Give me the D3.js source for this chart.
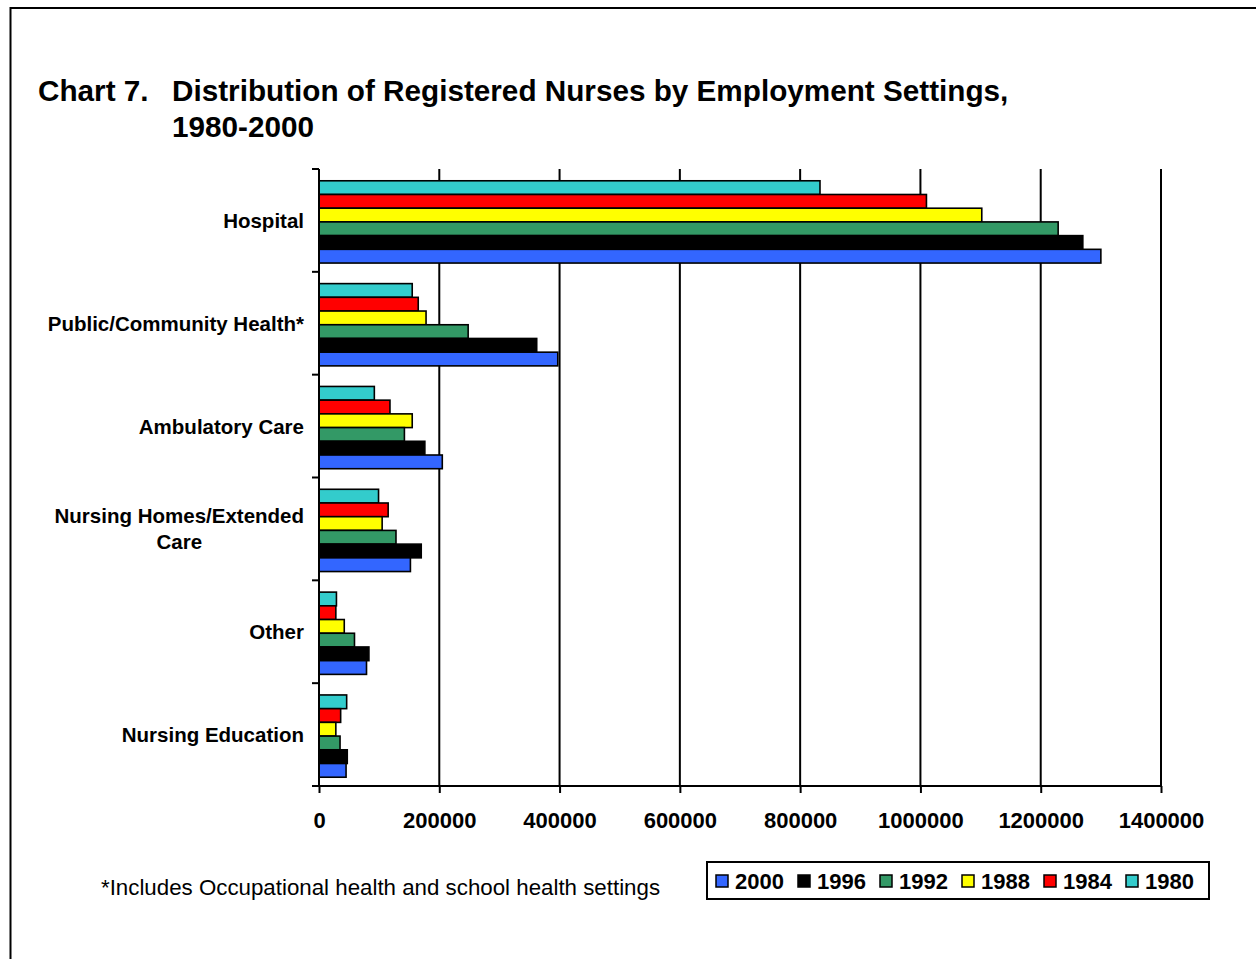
<!DOCTYPE html>
<html>
<head>
<meta charset="utf-8">
<script src="https://cdn.jsdelivr.net/npm/d3@7"></script>
<style>
  html, body { margin: 0; padding: 0; background: #fff; }
  svg { display: block; font-family: "Liberation Sans", Arial, Helvetica, sans-serif; }
</style>
</head>
<body>
<svg id="chart" width="1256" height="959"></svg>
<script>
// Employment settings (top to bottom)
const categories = [
  "Hospital",
  "Public/Community Health*",
  "Ambulatory Care",
  "Nursing Homes/Extended Care",
  "Other",
  "Nursing Education"
];

// Number of registered nurses per setting, by survey year
const s1980 = [833000, 155000, 92000, 99000, 29000, 46000];
const s1984 = [1010000, 165000, 118000, 115000, 28000, 36000];
const s1988 = [1102000, 178000, 155000, 105000, 42000, 28000];
const s1992 = [1229000, 248000, 142000, 128000, 59000, 35000];
const s1996 = [1270000, 362000, 176000, 170000, 83000, 47000];
const s2000 = [1300000, 397000, 205000, 152000, 79000, 45000];

// Bar order within each group (top to bottom) and legend order
const barYears = ["1980", "1984", "1988", "1992", "1996", "2000"];
const legendYears = ["2000", "1996", "1992", "1988", "1984", "1980"];
const yearColors = ["#33CCCC", "#FF0000", "#FFFF00", "#339966", "#000000", "#3366FF"];

const xTicks = [0, 200000, 400000, 600000, 800000, 1000000, 1200000, 1400000];

const titleLines = ["Distribution of Registered Nurses by Employment Settings,", "1980-2000"];
const footnote = "*Includes Occupational health and school health settings";

const seriesByYear = { "1980": s1980, "1984": s1984, "1988": s1988, "1992": s1992, "1996": s1996, "2000": s2000 };

const svg = d3.select("#chart");

// outer frame
svg.append("rect")
  .attr("x", 10.5).attr("y", 8)
  .attr("width", 2000).attr("height", 2000)
  .attr("fill", "none").attr("stroke", "#000").attr("stroke-width", 2);

// title
svg.append("text")
  .attr("x", 38).attr("y", 101)
  .attr("font-size", 29.7).attr("font-weight", "bold")
  .text("Chart 7.");
titleLines.forEach((t, i) => {
  svg.append("text")
    .attr("x", 172).attr("y", 101 + i * 36)
    .attr("font-size", 29.7).attr("font-weight", "bold")
    .text(t);
});

const plot = { left: 319, right: 1161, top: 169, bottom: 786 };

const x = d3.scaleLinear().domain([0, 1400000]).range([plot.left, plot.right]);
const y = d3.scaleBand().domain(categories).range([plot.top, plot.bottom])
  .paddingInner(0.2).paddingOuter(0.1);
const yInner = d3.scaleBand().domain(barYears).range([0, y.bandwidth()]);
const color = d3.scaleOrdinal().domain(barYears).range(yearColors);

// vertical gridlines
svg.append("g").selectAll("line")
  .data(xTicks.filter(d => d > 0))
  .join("line")
  .attr("x1", d => x(d)).attr("x2", d => x(d))
  .attr("y1", plot.top).attr("y2", plot.bottom)
  .attr("stroke", "#000").attr("stroke-width", 2);

// bars (groups sit slightly below the band centre)
const groups = svg.append("g").selectAll("g")
  .data(categories)
  .join("g")
  .attr("transform", c => `translate(0,${y(c) + 1.5})`);

groups.selectAll("rect")
  .data((c, i) => barYears.map(yr => ({ yr, v: seriesByYear[yr][i] })))
  .join("rect")
  .attr("x", x(0))
  .attr("y", d => yInner(d.yr))
  .attr("width", d => x(d.v) - x(0))
  .attr("height", yInner.bandwidth())
  .attr("fill", d => color(d.yr))
  .attr("stroke", "#000").attr("stroke-width", 1.6);

// bottom axis
const xAxis = svg.append("g")
  .attr("transform", `translate(0,${plot.bottom})`)
  .call(d3.axisBottom(x).tickValues(xTicks).tickFormat(d3.format("d")).tickSize(7).tickPadding(19).tickSizeOuter(0));
xAxis.select(".domain").attr("stroke-width", 2).attr("d", `M${plot.left - 7},0H${plot.right}`);
xAxis.selectAll(".tick line").attr("stroke-width", 2);
xAxis.selectAll(".tick text")
  .attr("font-family", "Liberation Sans, Arial, sans-serif")
  .attr("font-size", 22).attr("font-weight", "bold").attr("fill", "#000");

// left axis with ticks at category boundaries
const yAxis = svg.append("g");
yAxis.append("line")
  .attr("x1", plot.left).attr("x2", plot.left)
  .attr("y1", plot.top).attr("y2", plot.bottom)
  .attr("stroke", "#000").attr("stroke-width", 2);
const boundaries = categories.map(c => y(c) - y.step() * y.paddingInner() / 2);
yAxis.selectAll("line.tk")
  .data(boundaries)
  .join("line").attr("class", "tk")
  .attr("x1", plot.left - 7).attr("x2", plot.left)
  .attr("y1", d => d).attr("y2", d => d)
  .attr("stroke", "#000").attr("stroke-width", 2);

// category labels (wrapped when too wide)
const labelRight = 304, maxLabel = 270, lineH = 26;
categories.forEach(c => {
  const cy = y(c) + y.bandwidth() / 2;
  const probe = svg.append("text").attr("font-size", 20.5).attr("font-weight", "bold").text(c);
  let lines = [c];
  if (probe.node().getComputedTextLength() > maxLabel) {
    const words = c.split(" ");
    lines = [];
    let cur = "";
    words.forEach(w => {
      const test = cur ? cur + " " + w : w;
      probe.text(test);
      if (probe.node().getComputedTextLength() > maxLabel && cur) { lines.push(cur); cur = w; }
      else cur = test;
    });
    lines.push(cur);
  }
  probe.remove();
  const g = svg.append("g");
  const texts = lines.map((l, i) =>
    g.append("text")
      .attr("font-size", 20.5).attr("font-weight", "bold")
      .attr("y", cy + 7.5 + (i - (lines.length - 1) / 2) * lineH)
      .text(l));
  if (lines.length === 1) {
    texts[0].attr("x", labelRight).attr("text-anchor", "end");
  } else {
    const w = d3.max(texts, t => t.node().getComputedTextLength());
    texts.forEach(t => t.attr("x", labelRight - w / 2).attr("text-anchor", "middle"));
  }
});

// footnote
svg.append("text")
  .attr("x", 101).attr("y", 894.5)
  .attr("font-size", 22.3)
  .text(footnote);

// legend
const lg = svg.append("g");
lg.append("rect")
  .attr("x", 707).attr("y", 862).attr("width", 502).attr("height", 37)
  .attr("fill", "#fff").attr("stroke", "#000").attr("stroke-width", 2);
const items = lg.selectAll("g.item")
  .data(legendYears)
  .join("g").attr("class", "item")
  .attr("transform", (d, i) => `translate(${716 + i * 82},0)`);
items.append("rect")
  .attr("x", 0).attr("y", 875).attr("width", 12).attr("height", 12)
  .attr("fill", d => color(d)).attr("stroke", "#000").attr("stroke-width", 1.5);
items.append("text")
  .attr("x", 19).attr("y", 889)
  .attr("font-size", 22).attr("font-weight", "bold")
  .text(d => d);
</script>
</body>
</html>
